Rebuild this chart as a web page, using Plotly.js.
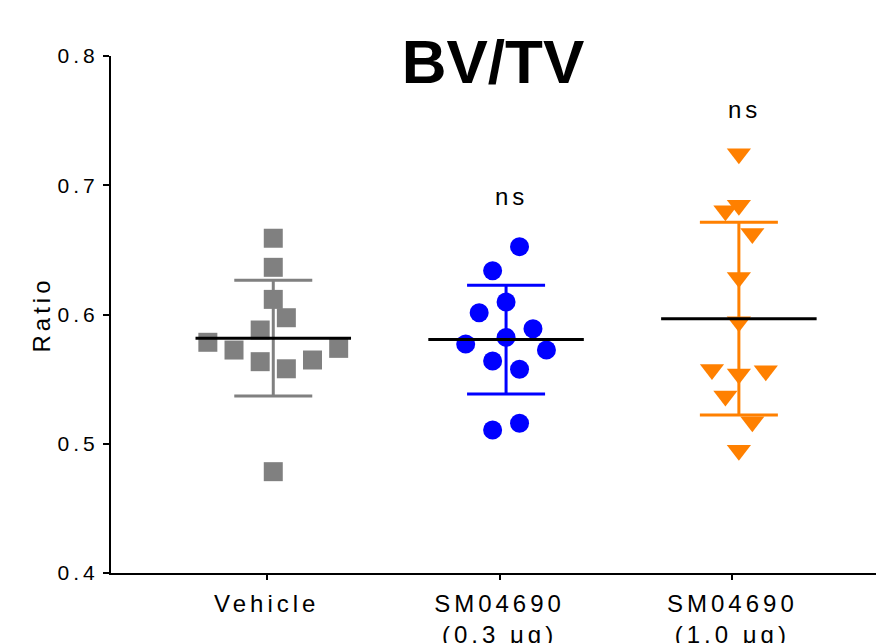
<!DOCTYPE html>
<html>
<head>
<meta charset="utf-8">
<script src="https://cdn.plot.ly/plotly-3.0.1.min.js"></script>
<style>
  html, body { margin: 0; padding: 0; background: #fff; }
  #chart { width: 876px; height: 643px; }
  .xtick text { letter-spacing: 4px; }
  .ytick text { letter-spacing: 4px; }
  .ytitle { letter-spacing: 4px; }
  .annotation-text { letter-spacing: 4px; }
</style>
</head>
<body>
<div id="chart"></div>
<script>
// ---- data ----
const categories = ['Vehicle', 'SM04690<br>(0.3 μg)', 'SM04690<br>(1.0 μg)'];
const vehicleValues = [0.659, 0.6365, 0.6117, 0.5975, 0.588, 0.5785, 0.5725, 0.5635, 0.558, 0.5648, 0.5738, 0.4784];
const lowDoseValues = [0.6525, 0.6339, 0.6097, 0.6014, 0.589, 0.5823, 0.5772, 0.5725, 0.564, 0.5576, 0.5158, 0.5106];
const highDoseValues = [0.7243, 0.6845, 0.6802, 0.6627, 0.6286, 0.5944, 0.5575, 0.554, 0.5565, 0.5369, 0.517, 0.495];
const groupMeans = [0.5817, 0.5806, 0.5968];
const groupSDs = [0.0448, 0.0421, 0.0746];
const sigLabels = ['', 'ns', 'ns'];
const sigLevels = [null, 0.6915, 0.7588];
// scatter-plot jitter (in marker steps) of each point, as placed in the reference
const vehicleJitter = [0, 0, 0, 1, -1, -5, -3, -1, 1, 3, 5, 0];
const lowDoseJitter = [1, -1, 0, -2, 2, 0, -3, 3, -1, 1, 1, -1];
const highDoseJitter = [0, 0, -1, 1, 0, 0, -2, 0, 2, -1, 1, 0];

// ---- styling ----
const colors = ['#808080', '#0000ff', '#ff8000'];
const symbols = ['square', 'circle', 'triangle-down'];
const sizes = [19, 19, 21];
const steps = [0.0562, 0.0578, 0.0578]; // jitter step in category units
const shift = 0.028;      // group offset from tick
const halfMean = 0.334;   // half-width of mean line
const FONT = 'Liberation Sans, Arial, Helvetica, sans-serif';

const groups = [
  {vals: vehicleValues, jit: vehicleJitter},
  {vals: lowDoseValues, jit: lowDoseJitter},
  {vals: highDoseValues, jit: highDoseJitter}
];

const traces = [];
groups.forEach((g, i) => {
  traces.push({
    type: 'scatter', mode: 'markers',
    x: g.jit.map(j => i + shift + j * steps[i]),
    y: g.vals,
    marker: {symbol: symbols[i], size: sizes[i], color: colors[i], line: {width: 0}},
    hoverinfo: 'y', showlegend: false, cliponaxis: false
  });
});
groups.forEach((g, i) => {
  traces.push({
    type: 'scatter', mode: 'markers',
    x: [i + shift], y: [groupMeans[i]],
    marker: {size: 1, color: 'rgba(0,0,0,0)'},
    error_y: {type: 'data', array: [groupSDs[i]], visible: true, color: colors[i], thickness: 3, width: 39},
    hoverinfo: 'skip', showlegend: false
  });
});
groups.forEach((g, i) => {
  traces.push({
    type: 'scatter', mode: 'lines',
    x: [i + shift - halfMean, i + shift + halfMean],
    y: [groupMeans[i], groupMeans[i]],
    line: {color: '#000000', width: 3},
    hoverinfo: 'skip', showlegend: false
  });
});

const annotations = [];
sigLabels.forEach((t, i) => {
  if (!t) return;
  annotations.push({
    x: i + shift + 0.024, y: sigLevels[i], xref: 'x', yref: 'y',
    text: t, showarrow: false, xanchor: 'center', yanchor: 'middle',
    font: {family: FONT, size: 24, color: '#000'}
  });
});

const layout = {
  width: 876, height: 643,
  margin: {l: 111, r: 0, t: 56, b: 70, pad: 0},
  paper_bgcolor: '#fff', plot_bgcolor: '#fff',
  title: {
    text: '<b>BV/TV</b>',
    font: {family: FONT, size: 62, color: '#000'},
    x: 493 / 876, xref: 'container', xanchor: 'center',
    y: 1 - 61 / 643, yref: 'container', yanchor: 'middle'
  },
  xaxis: {
    range: [-0.669, 2.617],
    tickmode: 'array', tickvals: [0, 1, 2], ticktext: categories,
    showline: true, linecolor: '#000', linewidth: 2,
    ticks: 'outside', ticklen: 5, tickwidth: 2, tickcolor: '#000',
    ticklabelstandoff: 3,
    showgrid: false, zeroline: false,
    tickfont: {family: FONT, size: 24, color: '#000'}
  },
  yaxis: {
    range: [0.4, 0.8],
    tickmode: 'array', tickvals: [0.4, 0.5, 0.6, 0.7, 0.8], tickformat: '.1f',
    showline: true, linecolor: '#000', linewidth: 2,
    ticks: 'outside', ticklen: 6, tickwidth: 2, tickcolor: '#000',
    showgrid: false, zeroline: false,
    tickfont: {family: FONT, size: 21, color: '#000'},
    title: {text: 'Ratio', font: {family: FONT, size: 24, color: '#000'}, standoff: 0}
  },
  annotations: annotations,
  showlegend: false
};

Plotly.newPlot('chart', traces, layout, {displayModeBar: false, staticPlot: true});
</script>
</body>
</html>
